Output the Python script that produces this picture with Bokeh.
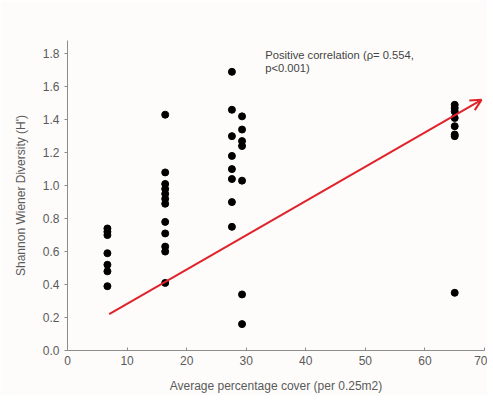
from bokeh.plotting import figure
from bokeh.models import Range1d, Arrow, OpenHead, Label, FixedTicker, CustomJSTickFormatter
from bokeh.embed import file_html
from bokeh.resources import INLINE

# Data
cover_g1 = [6.7] * 7
div_g1 = [0.74, 0.72, 0.70, 0.59, 0.52, 0.48, 0.39]
cover_g2 = [16.4] * 11
div_g2 = [1.43, 1.08, 1.01, 0.98, 0.95, 0.92, 0.89, 0.78, 0.71, 0.63, 0.60]
cover_g2b = [16.4]
div_g2b = [0.41]
cover_g3 = [27.6] * 8
div_g3 = [1.69, 1.46, 1.30, 1.18, 1.10, 1.04, 0.90, 0.75]
cover_g3b = [29.3] * 7
div_g3b = [1.42, 1.34, 1.27, 1.24, 1.03, 0.34, 0.16]
cover_g4 = [65.0] * 8
div_g4 = [1.49, 1.47, 1.45, 1.41, 1.36, 1.31, 1.30, 0.35]

trend_x = [7.0, 69.5]
trend_y = [0.22, 1.52]

y_ticks = [0.0, 0.2, 0.4, 0.6, 0.8, 1.0, 1.2, 1.4, 1.6, 1.8]
x_ticks = [0, 10, 20, 30, 40, 50, 60, 70]

annotation = "Positive correlation (\u03c1= 0.554,\np<0.001)"

FONT = "Liberation Sans"
GREY = "#5a5a5a"

p = figure(width=487, height=395, output_backend="svg", toolbar_location=None,
           x_range=Range1d(0, 70), y_range=Range1d(0, 1.88),
           min_border_left=67, min_border_right=3, min_border_top=40, min_border_bottom=45)
p.outline_line_color = None
p.grid.visible = False
p.background_fill_color = "#fdfcfa"
p.border_fill_color = "#fdfcfa"

xs = cover_g1 + cover_g2 + cover_g2b + cover_g3 + cover_g3b + cover_g4
ys = div_g1 + div_g2 + div_g2b + div_g3 + div_g3b + div_g4
p.scatter(xs, ys, size=7, color="black")

p.add_layout(Arrow(end=OpenHead(size=11, line_color="#e0232b", line_width=2),
                   x_start=trend_x[0], y_start=trend_y[0], x_end=trend_x[1], y_end=trend_y[1],
                   line_color="#e0232b", line_width=2))

p.add_layout(Label(x=33.2, y=1.83, text=annotation, text_font=FONT, text_font_size="8.4pt",
                   text_color="#444444", text_baseline="top", text_line_height=1.1))

for ax in (p.xaxis[0], p.yaxis[0]):
    ax.axis_line_color = "#8c8c8c"
    ax.major_tick_line_color = "#8c8c8c"
    ax.major_label_text_font = FONT
    ax.major_label_text_font_size = "9pt"
    ax.major_label_text_color = GREY
    ax.axis_label_text_font = FONT
    ax.axis_label_text_font_size = "9pt"
    ax.axis_label_text_font_style = "normal"
    ax.axis_label_text_color = GREY

p.xaxis.ticker = FixedTicker(ticks=x_ticks)
p.yaxis.ticker = FixedTicker(ticks=y_ticks)
p.yaxis.formatter = CustomJSTickFormatter(code="return tick.toFixed(1);")
p.xaxis.major_tick_in = 3
p.xaxis.major_tick_out = 0
p.yaxis.major_tick_in = 0
p.yaxis.major_tick_out = 3
p.xaxis.axis_label_standoff = 11
p.yaxis.axis_label_standoff = 12
p.xaxis.axis_label = "Average percentage cover (per 0.25m2)"
p.yaxis.axis_label = "Shannon Wiener Diversity (H')"

open("out.html", "w").write(file_html(p, INLINE))
